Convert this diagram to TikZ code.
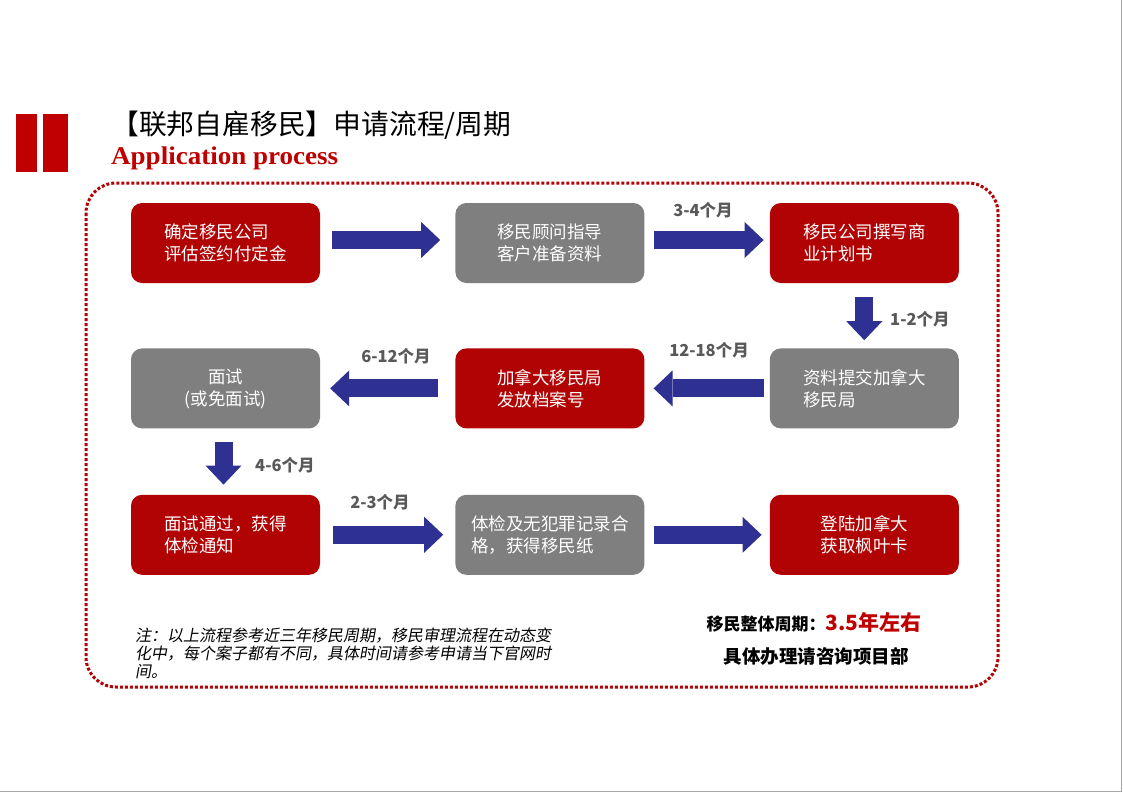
\documentclass[tikz,border=0pt]{standalone}
\usepackage{fontspec}
\setmainfont{Noto Sans CJK SC}
\newfontfamily\cjkit[FakeSlant=0.18]{Noto Sans CJK SC}
\newfontfamily\engserif[FakeStretch=1.06]{Liberation Serif}
\usetikzlibrary{positioning,arrows.meta}

\definecolor{barred}{HTML}{C00000}
\definecolor{boxred}{HTML}{B10303}
\definecolor{boxgray}{HTML}{7F7F7F}
\definecolor{arrowblue}{HTML}{2E3192}
\definecolor{lblgray}{HTML}{595959}

\tikzset{
  step red/.style={fill=boxred, text=white, rounded corners=11pt, minimum width=189pt,
    minimum height=80pt, inner sep=0pt, align=left, font=\fontsize{17.5}{22}\selectfont},
  step gray/.style={step red, fill=boxgray},
  flow/.style={color=arrowblue, line width=18pt,
    -{Triangle[length=19pt,width=36pt,line width=0pt]}},
  lbl/.style={text=lblgray, font=\fontsize{16.5}{18}\selectfont\bfseries, inner sep=0pt}
}

\begin{document}
\begin{tikzpicture}[x=1pt,y=-1pt]
  \useasboundingbox (0,0) rectangle (1123,793);
  \fill[white] (0,0) rectangle (1123,793);
  \draw[gray!70, line width=1.5pt] (1121.5,0) -- (1121.5,791.5) -- (0,791.5);

  % header
  \fill[barred] (16,114) rectangle (37,172);
  \fill[barred] (43,114) rectangle (68,172);
  \node (title) [anchor=west, inner sep=0pt, font=\fontsize{27.8}{30}\selectfont] at (111,125) {【联邦自雇移民】申请流程/周期};
  \node (subtitle) [anchor=west, inner sep=0pt, text=barred, font=\engserif\bfseries\fontsize{25.5}{27}\selectfont] at (111,158) {Application process};

  % frame
  \draw[boxred, dotted, line width=3pt, rounded corners=30pt] (86,183) rectangle (998,687);

  % steps
  \node (b11) [step red] at (225.5,243) {确定移民公司\\评估签约付定金};
  \node (b12) [step gray, right=135pt of b11] {移民顾问指导\\客户准备资料};
  \node (b13) [step red, right=125pt of b12] {移民公司撰写商\\业计划书};
  \node (b23) [step gray, below=65pt of b13] {资料提交加拿大\\移民局};
  \node (b22) [step red, left=125pt of b23] {加拿大移民局\\发放档案号};
  \node (b21) [step gray, left=135pt of b22, align=center] {面试\\(或免面试)};
  \node (b31) [step red, below=66pt of b21] {面试通过，获得\\体检通知};
  \node (b32) [step gray, right=135pt of b31] {体检及无犯罪记录合\\格，获得移民纸};
  \node (b33) [step red, right=125pt of b32] {登陆加拿大\\获取枫叶卡};

  % arrows
  \path[flow]
    ([yshift=3pt]b11.east) edge[shorten <=12pt, shorten >=15pt] ([yshift=3pt]b12.west)
    ([yshift=3pt]b12.east) edge[shorten <=9pt, shorten >=6pt] ([yshift=3pt]b13.west)
    (b13) edge[shorten <=14pt, shorten >=8pt] (b23)
    (b23) edge[shorten <=6pt, shorten >=9pt] (b22)
    (b22) edge[shorten <=17pt, shorten >=10pt] (b21)
    ([xshift=-2pt]b21.south) edge[shorten <=13pt, shorten >=10pt] ([xshift=-2pt]b31.north)
    (b31) edge[shorten <=13pt, shorten >=12pt] (b32)
    (b32) edge[shorten <=9pt, shorten >=8pt] (b33);

  % durations
  \node (t1) [lbl] at (703,210) {3-4个月};
  \node (t2) [lbl, anchor=west] at (890,319) {1-2个月};
  \node (t3) [lbl] at (709,350) {12-18个月};
  \node (t4) [lbl] at (396,356) {6-12个月};
  \node (t5) [lbl, anchor=west] at (255,465) {4-6个月};
  \node (t6) [lbl] at (380,502) {2-3个月};

  % notes
  \node (note) [anchor=west, align=left, inner sep=0pt, font=\cjkit\fontsize{16}{18}\selectfont] at (135,653)
    {注：以上流程参考近三年移民周期，移民审理流程在动态变\\化中，每个案子都有不同，具体时间请参考申请当下官网时\\间。};
  \node (total) [inner sep=0pt, font=\bfseries\fontsize{17}{20}\selectfont] at (814,622)
    {移民整体周期：\textcolor{barred}{\fontsize{21}{22}\selectfont 3.5年左右}};
  \node (contact) [inner sep=0pt, font=\bfseries\fontsize{18.5}{20}\selectfont] at (816,656) {具体办理请咨询项目部};
\end{tikzpicture}
\end{document}
